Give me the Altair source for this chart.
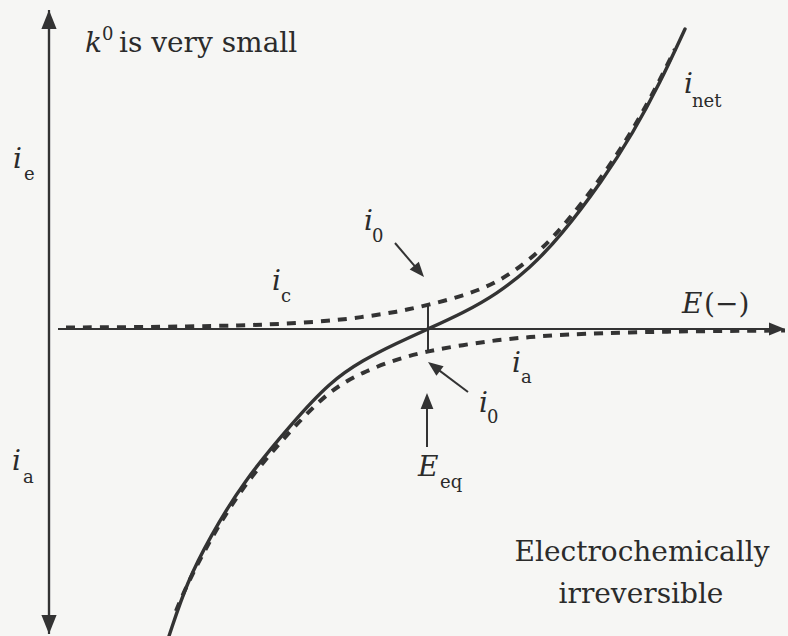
import math

import altair as alt
import pandas as pd

# Plot frame: overpotential (arbitrary units, 0 at E_eq) vs. current (arbitrary units)
W, H = 788, 636
ETA_MIN, ETA_MAX = -4.28, 3.60
CUR_MIN, CUR_MAX = -30.7, 32.9
PX_ETA = W / (ETA_MAX - ETA_MIN)
PX_CUR = H / (CUR_MAX - CUR_MIN)

INK = "#333333"
PAPER = "#f6f6f4"
SERIF = "DejaVu Serif"
BIG, SMALL = 28, 18

# Net current (solid)
net_eta = [-2.59, -2.41, -2.18, -1.85, -1.35, -0.98, -0.65, -0.31, 0.0,
           0.35, 0.69, 1.02, 1.32, 1.75, 2.05, 2.32, 2.57]
net_cur = [-30.7, -25.3, -20.8, -15.3, -9.3, -5.3, -3.1, -1.4, 0.0,
           1.6, 3.5, 6.1, 9.2, 14.9, 19.6, 24.6, 30.0]

# Cathodic component i_c (dashed, upper branch)
cat_eta = [-3.62, -3.0, -2.4, -1.88, -1.48, -0.98, -0.65, -0.31, 0.0,
           0.35, 0.69, 1.02, 1.32, 1.75, 2.05, 2.32, 2.47]
cat_cur = [0.15, 0.18, 0.25, 0.35, 0.5, 0.8, 1.2, 1.7, 2.4,
           3.3, 4.6, 6.9, 9.8, 15.3, 19.9, 24.9, 28.0]

# Anodic component i_a (dashed, lower branch)
ano_eta = [-2.52, -2.41, -2.18, -1.85, -1.35, -0.98, -0.65, -0.31, 0.0,
           0.35, 0.69, 1.02, 1.35, 2.1, 2.8, 3.57]
ano_cur = [-28.2, -25.55, -21.1, -15.65, -9.85, -6.1, -4.3, -3.0, -2.2,
           -1.6, -1.1, -0.8, -0.55, -0.3, -0.2, -0.15]

# Exchange current i_0 at E_eq
i0_top, i0_bottom = 2.4, -2.2

# Arrows: (start eta, start cur, tip eta, tip cur, head length px, stroke width)
arrows = [
    (-3.79, -30.5, -3.79, 31.9, 19, 2.2),   # current axis, up (i_e)
    (-3.79, 31.9, -3.79, -30.5, 19, 2.2),   # current axis, down (i_a)
    (-3.70, 0.0, 3.57, 0.0, 16, 2.2),       # potential axis E(-)
    (-0.33, 8.6, -0.04, 5.2, 15, 2.0),      # i_0 pointer (upper)
    (0.40, -6.3, 0.0, -3.3, 15, 2.0),       # i_0 pointer (lower)
    (-0.01, -11.8, -0.01, -6.4, 16, 2.0),   # E_eq pointer
]

shafts, heads = [], []
for x0, y0, x1, y1, head_len, sw in arrows:
    dx = (x1 - x0) * PX_ETA
    dy = -(y1 - y0) * PX_CUR
    length = math.hypot(dx, dy)
    ux, uy = dx / length, dy / length
    angle = math.degrees(math.atan2(ux, -uy)) % 360
    back = head_len * 0.6
    shafts.append({"x": x0, "y": y0,
                   "x2": x1 - ux * back / PX_ETA, "y2": y1 + uy * back / PX_CUR,
                   "w": sw})
    heads.append({"x": x1, "y": y1, "angle": angle, "size": head_len ** 2})

shaft_df = pd.DataFrame(shafts)
head_df = pd.DataFrame(heads)

curves = pd.concat([
    pd.DataFrame({"eta": net_eta, "cur": net_cur, "series": "net"}),
    pd.DataFrame({"eta": cat_eta, "cur": cat_cur, "series": "c"}),
    pd.DataFrame({"eta": ano_eta, "cur": ano_cur, "series": "a"}),
])

# Labels: text, eta, cur, font size, italic?, alignment
labels = [
    ("k", -3.43, 27.7, BIG, True, "left"),
    ("0", -3.26, 28.9, SMALL, False, "left"),
    ("is very small", -3.09, 27.7, BIG, False, "left"),
    ("i", -4.15, 16.1, BIG, True, "left"),
    ("e", -4.04, 14.9, SMALL, False, "left"),
    ("i", -4.16, -14.1, BIG, True, "left"),
    ("a", -4.05, -15.4, SMALL, False, "left"),
    ("i", -1.56, 3.9, BIG, True, "left"),
    ("c", -1.47, 2.7, SMALL, False, "left"),
    ("i", -0.64, 9.9, BIG, True, "left"),
    ("0", -0.56, 8.7, SMALL, False, "left"),
    ("i", 2.56, 23.6, BIG, True, "left"),
    ("net", 2.64, 22.2, SMALL, False, "left"),
    ("i", 0.84, -4.3, BIG, True, "left"),
    ("a", 0.93, -5.4, SMALL, False, "left"),
    ("i", 0.51, -8.3, BIG, True, "left"),
    ("0", 0.59, -9.4, SMALL, False, "left"),
    ("E", -0.10, -14.7, BIG, True, "left"),
    ("eq", 0.12, -15.9, SMALL, False, "left"),
    ("E", 2.54, 1.6, BIG, True, "left"),
    ("(\u2212)", 2.76, 1.6, BIG, False, "left"),
    ("Electrochemically", 2.14, -23.2, BIG, False, "center"),
    ("irreversible", 2.13, -27.4, BIG, False, "center"),
]
label_df = pd.DataFrame(labels, columns=["text", "eta", "cur", "fs", "italic", "halign"])

xs = alt.Scale(domain=[ETA_MIN, ETA_MAX], zero=False, nice=False)
ys = alt.Scale(domain=[CUR_MIN, CUR_MAX], zero=False, nice=False)


def X(f):
    return alt.X(f, type="quantitative", scale=xs, axis=None)


def Y(f):
    return alt.Y(f, type="quantitative", scale=ys, axis=None)


shaft_layer = alt.Chart(shaft_df).mark_rule(color=INK).encode(
    x=X("x"), y=Y("y"), x2="x2", y2="y2",
    strokeWidth=alt.StrokeWidth("w:Q", scale=None),
)

head_layer = alt.Chart(head_df).mark_point(
    shape="M0,0L0.8,2L-0.8,2Z", filled=True, color=INK, opacity=1, strokeWidth=0
).encode(
    x=X("x"), y=Y("y"),
    angle=alt.Angle("angle:Q", scale=None),
    size=alt.Size("size:Q", scale=None),
)

i0_df = pd.DataFrame({"x": [0.0], "y": [i0_top], "y2": [i0_bottom]})
i0_layer = alt.Chart(i0_df).mark_rule(color=INK, strokeWidth=2).encode(
    x=X("x"), y=Y("y"), y2="y2"
)

net_layer = alt.Chart(curves).transform_filter(alt.datum.series == "net").mark_line(
    color=INK, strokeWidth=3.4, interpolate="basis", strokeCap="round"
).encode(x=X("eta"), y=Y("cur"))

dash_layer = alt.Chart(curves).transform_filter(alt.datum.series != "net").mark_line(
    color=INK, strokeWidth=4, strokeDash=[9, 8], interpolate="basis"
).encode(x=X("eta"), y=Y("cur"), detail="series:N")


def text_layer(italic, halign):
    sub = label_df[(label_df["italic"] == italic) & (label_df["halign"] == halign)]
    return alt.Chart(sub).mark_text(
        font=SERIF, fontStyle="italic" if italic else "normal", align=halign,
        baseline="alphabetic", color="#2b2b2b",
    ).encode(
        x=X("eta"), y=Y("cur"), text="text:N",
        size=alt.Size("fs:Q", scale=None),
    )


chart = alt.layer(
    shaft_layer, head_layer, i0_layer, dash_layer, net_layer,
    text_layer(True, "left"), text_layer(False, "left"), text_layer(False, "center"),
).properties(
    width=W, height=H, padding=0, autosize=alt.AutoSizeParams(type="none"),
    background=PAPER,
).configure_view(stroke=None)

chart.save("out.html", embed_options={"renderer": "svg", "actions": False})
